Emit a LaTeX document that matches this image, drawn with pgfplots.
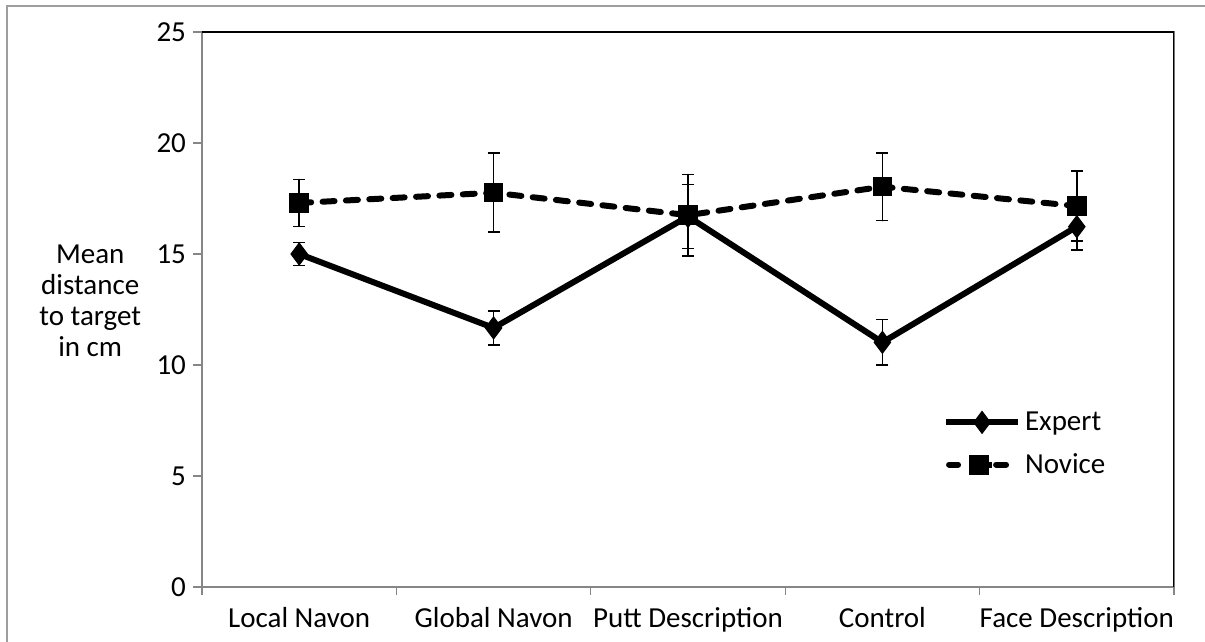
\documentclass[border=0pt]{standalone}
\usepackage{fontspec}
\setmainfont{Carlito}
\usepackage{pgfplots}
\pgfplotsset{compat=1.18}
\pgfplotstableread{
x y e
0 15.00 0.52
1 11.67 0.77
2 16.69 1.45
3 11.02 1.02
4 16.23 1.05
}\expert
\pgfplotstableread{
x y e
0 17.30 1.06
1 17.76 1.78
2 16.75 1.83
3 18.03 1.53
4 17.16 1.58
}\novice
\definecolor{axgray}{RGB}{134,134,134}
\begin{document}
\begin{tikzpicture}[font=\fontsize{14}{17.5}\selectfont]
\useasboundingbox (-101pt,-27.5pt) rectangle (501.5pt,293.5pt);
\draw[axgray!80, line width=0.6pt] (-97.5pt,-60pt) rectangle (540pt,290.5pt);
\begin{axis}[
  at={(0pt,0pt)}, anchor=south west,
  scale only axis, width=486pt, height=277.5pt,
  xmin=-0.5, xmax=4.5, ymin=0, ymax=25,
  ytick={0,5,...,25},
  xtick={0,...,4},
  xticklabels={Local Navon, Global Navon, Putt Description, Control, Face Description},
  minor xtick={-0.5,0.5,...,4.5},
  tick pos=left, tick align=outside,
  major x tick style={draw=none},
  major tick length=4.5pt, minor tick length=4pt,
  every tick/.style={axgray, line width=0.6pt},
  axis line style={axgray, line width=0.75pt},
  /pgf/number format/assume math mode=true,
  ticklabel style={font=\fontsize{14.5}{17.5}\selectfont},
  xticklabel style={yshift=-2pt},
  ylabel={Mean\\distance\\to target\\in cm},
  ylabel style={rotate=-90, at={(rel axis cs:-0.115,0.515)}, anchor=center, align=center, font=\fontsize{14.5}{15.5}\selectfont},
  legend style={draw=none, fill=none, at={(0.762,0.258)}, anchor=west, inner sep=0pt, row sep=6pt, font=\fontsize{14.5}{17.5}\selectfont,
    nodes={inner xsep=2pt}},
  legend cell align=left,
  legend image code/.code={\draw[#1, mark repeat=2, mark phase=2] plot coordinates {(0pt,0pt) (18pt,0pt) (36pt,0pt)};},
]
\addplot[black, line width=3pt, mark=diamond*, mark size=5.5pt, mark options={solid, line width=0.5pt},
  error bars/.cd, y dir=both, y explicit,
  error bar style={line width=0.75pt, solid, black},
  error mark options={rotate=90, mark size=3pt, line width=0.75pt, solid, black}]
  table[x=x, y=y, y error=e] {\expert};
\addlegendentry{Expert}
\addplot[black, line width=3pt, line cap=round, dash pattern=on 6pt off 5.7pt, mark=square*, mark size=4.6pt, mark options={solid, line width=0.5pt},
  legend image code/.code={
    \draw[black, solid, line width=3pt, line cap=round] (1.5pt,0pt) -- (6pt,0pt) (25pt,0pt) -- (30pt,0pt);
    \fill[black, draw=none] (11.5pt,-5pt) rectangle (21.5pt,5pt);
    \draw[black, solid, line width=3pt, line cap=butt] (21pt,0pt) -- (23pt,0pt);
    \path[draw=none, fill=none] (0pt,0pt) -- (36pt,0pt);},
  error bars/.cd, y dir=both, y explicit,
  error bar style={line width=0.75pt, solid, black},
  error mark options={rotate=90, mark size=3pt, line width=0.75pt, solid, black}]
  table[x=x, y=y, y error=e] {\novice};
\addlegendentry{Novice}
\draw[black, line width=0.75pt] (rel axis cs:0,1) -- (rel axis cs:1,1) -- (rel axis cs:1,0);
\end{axis}
\end{tikzpicture}
\end{document}
